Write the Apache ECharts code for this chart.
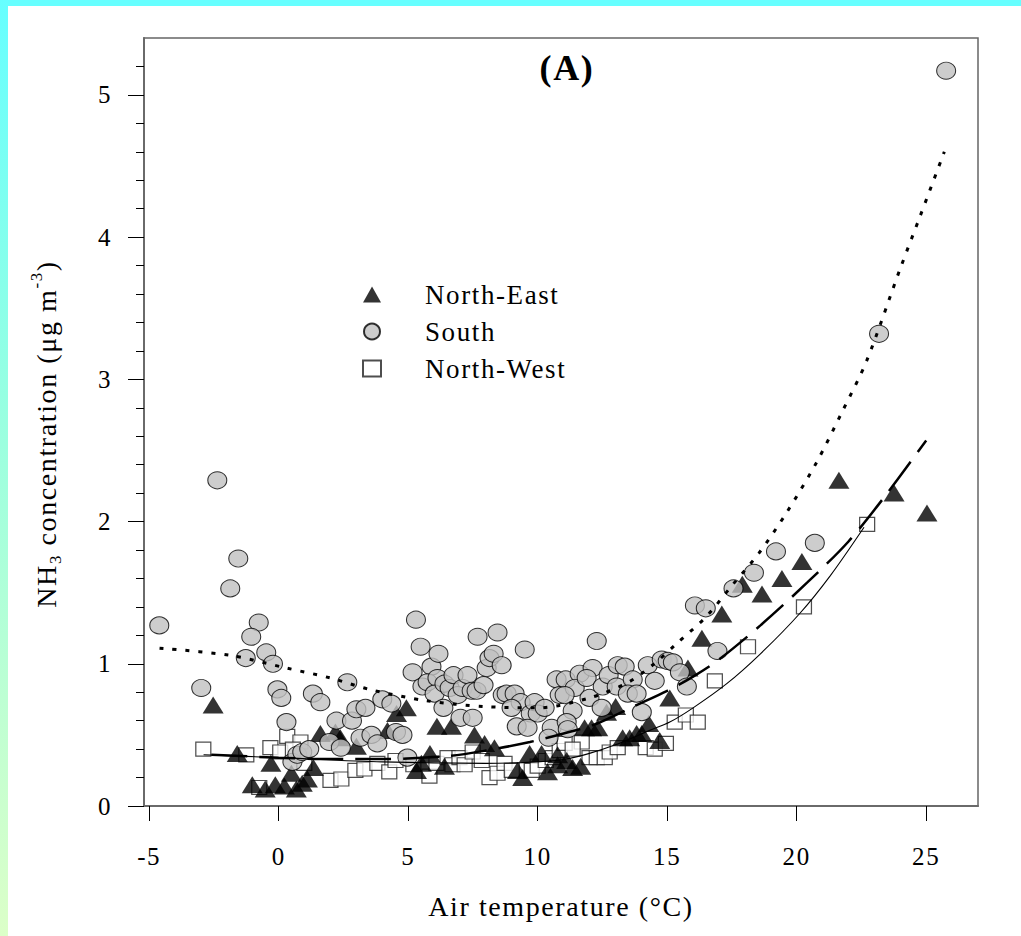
<!DOCTYPE html>
<html>
<head>
<meta charset="utf-8">
<script src="https://cdn.jsdelivr.net/npm/echarts@6/dist/echarts.min.js"></script>
<style>
  html, body { margin: 0; padding: 0; background: #ffffff; }
  #topband { position: absolute; left: 0; top: 0; width: 1021px; height: 6px; background: #66ffff; }
  #leftband { position: absolute; left: 0; top: 0; width: 8px; height: 936px;
              background: linear-gradient(to bottom, #66ffff 0%, #99ffe0 45%, #dcffc8 100%); }
  #chart { position: absolute; left: 0; top: 0; width: 1021px; height: 936px; }
  #chart text { letter-spacing: 1.6px; }
</style>
</head>
<body>
<div id="topband"></div>
<div id="leftband"></div>
<div id="chart"></div>
<script>
// ---- data ----
const xTicks = [-5, 0, 5, 10, 15, 20, 25];
const yTicks = [0, 1, 2, 3, 4, 5];
const yMinorTicks = [0.2, 0.4, 0.6, 0.8, 1.2, 1.4, 1.6, 1.8, 2.2, 2.4, 2.6, 2.8,
                     3.2, 3.4, 3.6, 3.8, 4.2, 4.4, 4.6, 4.8, 5.2];
const seriesNames = ['North-East', 'South', 'North-West'];

const northEastPoints = [
  [-2.53,0.71],[-1.60,0.37],[-0.30,0.30],[0.49,0.23],[-1.02,0.15],[-0.52,0.12],
  [-0.13,0.15],[0.22,0.14],[0.68,0.12],[0.91,0.16],[1.11,0.19],[1.34,0.27],
  [1.61,0.51],[2.19,0.52],[2.38,0.48],[3.0,0.42],[4.20,0.53],[4.55,0.65],[4.93,0.69],
  [5.84,0.37],[5.51,0.30],[5.32,0.25],[6.11,0.56],[6.67,0.56],[7.56,0.50],
  [7.95,0.44],[8.33,0.41],[6.40,0.28],[9.69,0.37],[10.15,0.37],[10.77,0.36],
  [9.22,0.25],[9.42,0.20],[10.38,0.24],[10.77,0.29],[11.12,0.32],[11.35,0.27],
  [11.66,0.28],[11.81,0.55],[12.08,0.55],[12.32,0.55],[12.66,0.66],[13.01,0.70],
  [13.28,0.48],[13.55,0.48],[13.82,0.51],[14.02,0.51],[14.29,0.58],[14.71,0.46],
  [15.10,0.76],[15.80,0.97],[16.34,1.18],[17.11,1.35],[17.90,1.56],[18.66,1.49],
  [19.43,1.60],[20.20,1.72],[21.63,2.29],[23.76,2.20],[25.03,2.06]
];

const southPoints = [
  [-4.61,1.27],[-2.99,0.83],[-2.37,2.29],[-1.87,1.53],[-1.56,1.74],[-0.77,1.29],
  [-1.06,1.19],[-1.27,1.04],[-0.48,1.08],[-0.22,1.00],[-0.05,0.82],[0.10,0.76],
  [0.30,0.59],[1.32,0.79],[1.61,0.73],[2.65,0.87],[2.23,0.60],[2.83,0.60],
  [3.0,0.68],[3.35,0.69],[4.0,0.75],[4.35,0.72],[1.96,0.45],[2.40,0.41],
  [3.16,0.48],[3.58,0.50],[3.81,0.44],[4.53,0.52],[4.78,0.50],[0.53,0.31],
  [0.72,0.36],[0.91,0.38],[1.18,0.40],[4.97,0.34],[5.30,1.31],[5.48,1.12],
  [5.17,0.94],[5.90,0.98],[6.17,1.07],[5.55,0.84],[5.75,0.87],[6.13,0.90],
  [6.02,0.79],[6.36,0.69],[6.40,0.86],[6.60,0.83],[6.75,0.92],[6.91,0.78],
  [7.10,0.83],[7.29,0.92],[7.45,0.81],[7.64,0.81],[7.91,0.85],[8.03,0.97],
  [8.14,1.04],[8.30,1.07],[8.61,0.99],[7.68,1.19],[8.45,1.22],[9.50,1.10],
  [7.02,0.62],[7.49,0.62],[8.65,0.78],[8.80,0.79],[9.11,0.79],[9.34,0.73],
  [8.99,0.69],[9.73,0.65],[9.88,0.73],[10.0,0.65],[10.27,0.69],[9.19,0.56],
  [9.61,0.55],[10.54,0.55],[10.42,0.48],[10.73,0.89],[10.85,0.78],[12.28,1.16],
  [11.08,0.89],[11.62,0.93],[12.12,0.97],[11.43,0.83],[11.89,0.90],[11.04,0.78],
  [12.0,0.76],[11.35,0.67],[11.12,0.59],[11.16,0.54],[12.47,0.69],[12.51,0.84],
  [12.74,0.92],[13.09,0.99],[13.36,0.98],[13.05,0.84],[13.67,0.89],[13.48,0.79],
  [13.82,0.79],[14.02,0.66],[14.25,0.99],[14.52,0.88],[14.79,1.03],[15.02,1.02],
  [15.22,1.01],[15.49,0.94],[15.76,0.84],[16.07,1.41],[16.49,1.39],[16.94,1.09],
  [17.56,1.53],[18.35,1.64],[19.2,1.79],[20.7,1.85],[23.18,3.32],[25.77,5.17]
];

const northWestPoints = [
  [-2.91,0.40],[-1.25,0.36],[-0.32,0.41],[0.06,0.38],[0.33,0.49],[0.84,0.45],
  [0.55,0.40],[2.0,0.18],[2.42,0.19],[2.96,0.25],[3.31,0.26],[-0.75,0.13],
  [0.99,0.30],[3.81,0.30],[4.27,0.24],[4.51,0.32],[5.2,0.29],[5.82,0.21],
  [6.09,0.30],[6.52,0.34],[6.71,0.29],[6.98,0.34],[7.18,0.29],[7.49,0.38],
  [7.84,0.32],[8.14,0.20],[8.45,0.23],[8.72,0.30],[9.0,0.25],[9.77,0.25],
  [10.0,0.28],[10.31,0.32],[10.58,0.34],[10.85,0.39],[11.04,0.44],[11.70,0.45],
  [11.35,0.40],[12.0,0.34],[12.28,0.34],[12.59,0.34],[12.78,0.38],[13.09,0.41],
  [14.17,0.41],[14.52,0.40],[14.95,0.44],[15.29,0.59],[15.72,0.64],[16.18,0.59],
  [16.84,0.88],[18.12,1.12],[20.28,1.40],[22.72,1.98]
];

// fitted curves
const southFit = [
  [-4.6,1.11],[-1.9,1.06],[0.3,0.97],[2.0,0.90],[3.5,0.82],[5.7,0.74],[7.9,0.70],
  [10,0.69],[12,0.76],[13.5,0.87],[14.5,1.0],[15.35,1.14],[16.5,1.33],[17.5,1.55],
  [18.55,1.78],[19.6,2.06],[20.75,2.41],[21.75,2.77],[22.7,3.13],[24.0,3.78],
  [24.75,4.14],[25.7,4.6]
];
const northEastFit = [
  [-2.6,0.36],[0,0.34],[2,0.33],[4,0.33],[6.5,0.35],[8,0.39],[9.7,0.45],[11,0.51],
  [12.3,0.58],[13.7,0.70],[15,0.81],[16,0.91],[17,1.03],[18.6,1.27],[20.4,1.57],
  [22,1.86],[23.5,2.2],[25,2.57]
];
const northWestFit = [
  [-2.9,0.36],[0,0.34],[4,0.31],[8,0.30],[10,0.31],[11.1,0.33],[12,0.37],[13,0.43],
  [14.3,0.53],[15.1,0.59],[16,0.69],[17.3,0.86],[18.6,1.07],[20.1,1.35],[21.3,1.62],
  [22.6,1.96]
];

// ---- chart ----
const FONT = '"Liberation Serif", "Times New Roman", serif';
const LS = 1.6; // letter spacing applied through CSS to svg text
function tok(size, lineHeight, chars, vAlign) {
  const s = { fontFamily: FONT, fontSize: size, lineHeight: lineHeight, color: '#000',
              align: 'left', padding: [0, chars * LS, 0, 0] };
  if (vAlign) s.verticalAlign = vAlign;
  return s;
}
const chart = echarts.init(document.getElementById('chart'), null, { renderer: 'svg' });

chart.setOption({
  animation: false,
  backgroundColor: 'transparent',
  grid: { left: 144, right: 43, top: 38, bottom: 130, show: true,
          borderColor: '#666', borderWidth: 1.5, backgroundColor: 'transparent' },
  title: {
    text: '(A)', left: 562, top: 45, textAlign: 'center',
    textStyle: { fontFamily: FONT, fontWeight: 'bold', fontSize: 36, color: '#000' }
  },
  legend: {
    data: seriesNames, orient: 'vertical', left: 357, top: 276,
    itemWidth: 18, itemHeight: 16, itemGap: 10, selectedMode: false,
    textStyle: { fontFamily: FONT, fontSize: 27, color: '#000', lineHeight: 27,
                 padding: [0, 0, 0, 39] }
  },
  xAxis: {
    type: 'value', min: -5.2, max: 27,
    name: 'Air temperature (°C)', nameLocation: 'middle', nameGap: 86,
    nameTextStyle: { fontFamily: FONT, fontSize: 28, color: '#000' },
    axisLine: { show: true, onZero: false, lineStyle: { color: '#6a6a6a', width: 2 } },
    axisTick: { show: true, customValues: xTicks, length: 15, lineStyle: { color: '#000', width: 1 } },
    axisLabel: { customValues: xTicks, margin: 38, fontFamily: FONT, fontSize: 25, color: '#000' },
    splitLine: { show: false }
  },
  yAxis: [{
    type: 'value', min: 0, max: 5.4, position: 'left',
    name: '{a|NH}{s|3}{b|\u00a0concentration (μg m}{p|-3}{c|)}',
    nameLocation: 'middle', nameRotate: 90, nameGap: 80,
    nameTextStyle: {
      fontFamily: FONT, fontSize: 28, color: '#000', padding: [0, 24, 0, 0],
      rich: {
        a: tok(28, 36, 2),
        s: tok(17, 17, 1, 'bottom'),
        b: tok(28, 36, 20),
        p: tok(17, 17, 2, 'top'),
        c: tok(28, 36, 1)
      }
    },
    axisLine: { show: true, onZero: false, lineStyle: { color: '#6a6a6a', width: 2 } },
    axisTick: { show: true, customValues: yTicks, length: 16, lineStyle: { color: '#000', width: 1 } },
    axisLabel: { customValues: yTicks, margin: 32, fontFamily: FONT, fontSize: 25, color: '#000' },
    splitLine: { show: false }
  }, {
    type: 'value', min: 0, max: 5.4, position: 'left', offset: 0,
    axisLine: { show: false, onZero: false },
    axisTick: { show: true, customValues: yMinorTicks, length: 8, lineStyle: { color: '#000', width: 1 } },
    axisLabel: { show: false },
    splitLine: { show: false }
  }],
  series: [
    { name: 'North-East', type: 'scatter', data: northEastPoints, symbol: 'triangle',
      symbolSize: [21, 17], itemStyle: { color: '#000' }, z: 3 },
    { name: 'South', type: 'scatter', data: southPoints, symbol: 'circle',
      symbolSize: [19, 17], itemStyle: { color: '#c0c0c0', borderColor: '#000', borderWidth: 1 }, z: 4 },
    { name: 'North-West', type: 'scatter', data: northWestPoints, symbol: 'rect',
      symbolSize: [15, 14], itemStyle: { color: '#fff', borderColor: '#222', borderWidth: 1.2 }, z: 2 },
    { name: 'South fit', type: 'line', data: southFit, showSymbol: false, symbol: 'none', smooth: 0.3,
      lineStyle: { color: '#000', width: 3, type: [4, 9] }, z: 6, silent: true },
    { name: 'North-East fit', type: 'line', data: northEastFit, showSymbol: false, symbol: 'none', smooth: 0.3,
      lineStyle: { color: '#000', width: 2.5, type: [36, 12] }, z: 6, silent: true },
    { name: 'North-West fit', type: 'line', data: northWestFit, showSymbol: false, symbol: 'none', smooth: 0.3,
      lineStyle: { color: '#000', width: 1.1 }, z: 6, silent: true }
  ]
});
</script>
</body>
</html>
